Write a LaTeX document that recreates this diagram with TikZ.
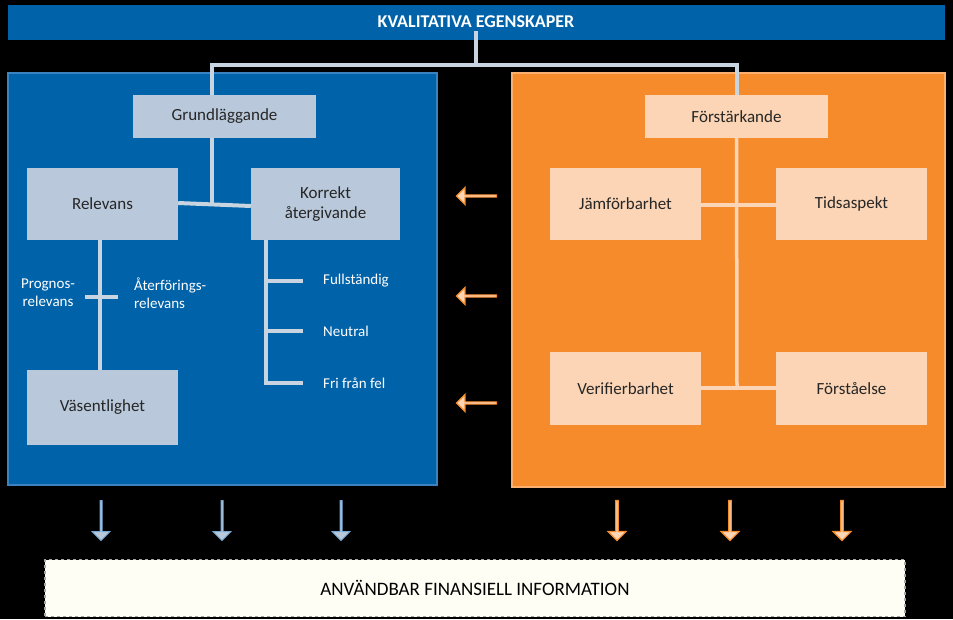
\documentclass[tikz,border=0pt]{standalone}
\usepackage{fontspec}
\setmainfont{Carlito}
\usetikzlibrary{shapes.arrows}
\definecolor{panelblue}{HTML}{0062A8}
\definecolor{edgeblue}{HTML}{3A82C0}
\definecolor{boxblue}{HTML}{B9C9DB}
\definecolor{panelorange}{HTML}{F68B2C}
\definecolor{edgeorange}{HTML}{FBB070}
\definecolor{boxorange}{HTML}{FBD5B5}
\definecolor{linegray}{HTML}{C8D4E0}
\tikzset{
  bluebox/.style={fill=boxblue, text=black!85, font=\fontsize{17}{20}\selectfont, align=center, inner sep=0pt},
  orangebox/.style={fill=boxorange, text=black!85, font=\fontsize{17}{20}\selectfont, align=center, inner sep=0pt},
  sublabel/.style={text=white, font=\fontsize{15}{18}\selectfont, inner sep=0pt},
  bluelink/.style={draw=linegray, line width=4pt},
  orangelink/.style={draw=boxorange, line width=3.5pt},
  sidearrow/.style={single arrow, shape border rotate=180, draw=panelorange, fill=boxorange, line width=1.2pt,
    minimum height=40pt, minimum width=17pt, single arrow head extend=4pt, inner sep=0pt},
  downblue/.style={single arrow, shape border rotate=270, draw=edgeblue!70, fill=boxblue, line width=1pt,
    minimum height=40pt, minimum width=18pt, single arrow head extend=4pt, inner sep=0pt},
  downorange/.style={single arrow, shape border rotate=270, draw=panelorange, fill=boxorange, line width=1.2pt,
    minimum height=40pt, minimum width=18pt, single arrow head extend=4pt, inner sep=0pt}
}
\begin{document}
\begin{tikzpicture}[x=1pt,y=-1pt]
  \fill[black] (0,0) rectangle (953,619);
  \useasboundingbox (0,0) rectangle (953,619);
  % title bar and panels
  \fill[panelblue] (8,5) rectangle (945,40);
  \node[text=white, font=\bfseries\fontsize{18}{20}\selectfont] (title) at (476,22) {KVALITATIVA EGENSKAPER};
  \draw[fill=panelblue, draw=edgeblue, line width=2pt] (8,73) rectangle (437,485);
  \draw[fill=panelorange, draw=edgeorange, line width=2pt] (512,73) rectangle (945,487);
  % boxes
  \node[bluebox, minimum width=183pt, minimum height=43pt] (grund) at (224.5,116.5) {Grundläggande};
  \node[bluebox, minimum width=151pt, minimum height=72pt] (relevans) at (102.5,204) {Relevans};
  \node[bluebox, minimum width=149pt, minimum height=72pt] (korrekt) at (325.5,204) {Korrekt\\återgivande};
  \node[bluebox, minimum width=151pt, minimum height=75pt] (vasent) at (102.5,407.5) {Väsentlighet};
  \node[orangebox, minimum width=183pt, minimum height=43pt] (forst) at (736.5,116.5) {Förstärkande};
  \node[orangebox, minimum width=151pt, minimum height=72pt] (jamf) at (625.5,204) {Jämförbarhet};
  \node[orangebox, minimum width=151pt, minimum height=72pt] (tids) at (851.5,204) {Tidsaspekt};
  \node[orangebox, minimum width=151pt, minimum height=73pt] (verif) at (625.5,388.5) {Verifierbarhet};
  \node[orangebox, minimum width=151pt, minimum height=73pt] (forsta) at (851.5,388.5) {Förståelse};
  % top connector
  \coordinate (split) at (476,65);
  \draw[bluelink] (title.south -| split) |- (212,65) -- (grund.north -| 212,0);
  \draw[bluelink] (split) -| (forst.north);
  % Grundläggande branch
  \draw[bluelink] (grund.south -| 212,0) -- (212,203);
  \draw[bluelink] (relevans.east |- 0,203) -- (korrekt.west |- 0,206);
  \draw[bluelink] (relevans.south -| 100,0) -- (vasent.north -| 100,0);
  \draw[bluelink] (85,297) -- (118,297);
  \node[sublabel, align=center] (prognos) at (48,293) {Prognos-\\relevans};
  \node[sublabel, align=left, anchor=west] (aterf) at (134,293) {Återförings-\\relevans};
  \draw[bluelink] (korrekt.south -| 266,0) -- (266,383);
  \foreach \y/\name/\txt in {281/full/Fullständig, 331/neutral/Neutral, 383/fri/Fri från fel} {
    \draw[bluelink] (264,\y) -- (303,\y);
    \node[sublabel, anchor=west] (\name) at (323,\y) {\txt};
  }
  % Förstärkande branch
  \draw[orangelink] (forst.south) -- (737,388);
  \draw[orangelink] (jamf.east |- 0,205) -- (tids.west |- 0,205);
  \draw[orangelink] (verif.east |- 0,388) -- (forsta.west |- 0,388);
  % arrows
  \foreach \y in {196,296,403}
    \node[sidearrow] at (477,\y) {};
  \foreach \x in {101,222,341}
    \node[downblue] at (\x,520) {};
  \foreach \x in {617,730,842}
    \node[downorange] at (\x,520) {};
  % bottom box
  \node[draw=gray!70, dashed, line width=1.5pt, fill=white!96!yellow, minimum width=860pt, minimum height=57pt,
    font=\fontsize{19}{22}\selectfont, text=black] (info) at (475,588) {ANVÄNDBAR FINANSIELL INFORMATION};
\end{tikzpicture}
\end{document}
